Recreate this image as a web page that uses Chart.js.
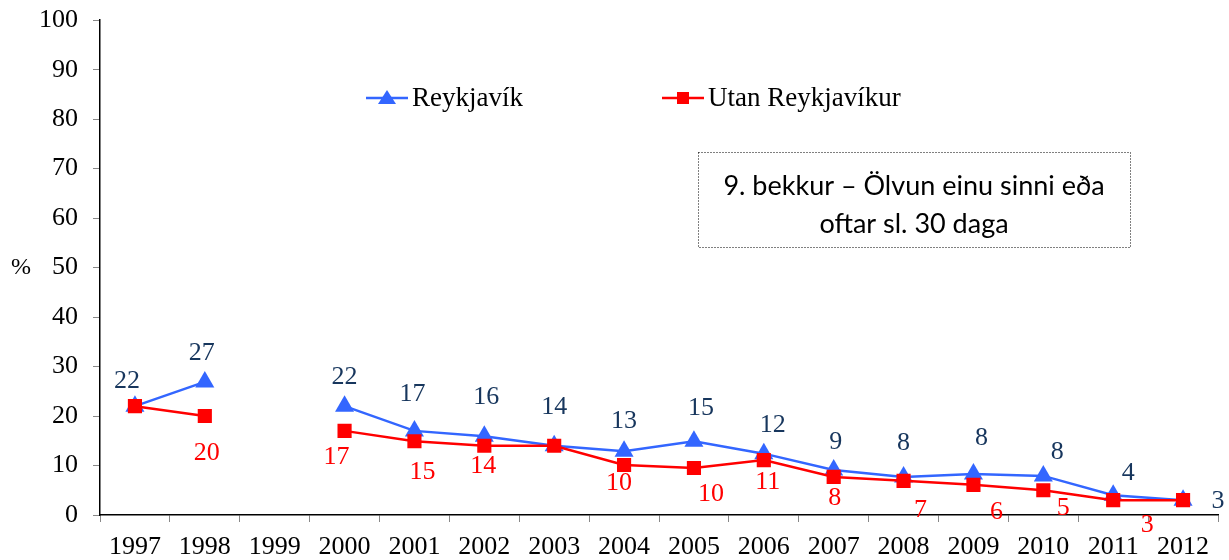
<!DOCTYPE html>
<html lang="is">
<head>
<meta charset="UTF-8">
<title>9. bekkur – Ölvun einu sinni eða oftar sl. 30 daga</title>
<script src="https://cdn.jsdelivr.net/npm/chart.js@4"></script>
<style>
    html, body { margin: 0; padding: 0; background: #fff; }
    #wrap { width: 1229px; height: 560px; position: relative; }
</style>
</head>
<body>
<div id="wrap"><canvas id="chart"></canvas></div>
<script>
// Ár (flokkar á x-ás)
const years = ['1997', '1998', '1999', '2000', '2001', '2002', '2003', '2004',
               '2005', '2006', '2007', '2008', '2009', '2010', '2011', '2012'];

// Gildi lesin af myndinni (%), null = engin mæling
const reykjavik = [22, 26.9, null, 22, 17, 15.9, 14, 12.9, 14.9, 12.4, 9.1, 7.7, 8.3, 7.9, 4, 3];
const utan      = [22, 20, null, 17, 14.9, 14, 14, 10.1, 9.5, 11.1, 7.7, 6.9, 6.1, 5, 3, 3];

// Merkingar við punkta (eins og á myndinni)
const reykjavikLabels = ['22', '27', null, '22', '17', '16', '14', '13', '15', '12', '9', '8', '8', '8', '4', '3'];
const utanLabels      = [null, '20', null, '17', '15', '14', null, '10', '10', '11', '8', '7', '6', '5', '3', null];

const yTicks = [0, 10, 20, 30, 40, 50, 60, 70, 80, 90, 100];

const seriesNames = ['Reykjavík', 'Utan Reykjavíkur'];
const titleLines = ['9. bekkur – Ölvun einu sinni eða', 'oftar sl. 30 daga'];

const BLUE = '#3366FF';
const RED = '#FF0000';
const NAVY = '#17365D';
const SERIF = '"Liberation Serif", "Times New Roman", serif';

// færslur merkinga frá punkti (dx, dy) í pixlum
const reykOffsets = [[-8,-25],[-3,-29],null,[0,-29],[-2,-37],[2,-39],[0,-39],[0,-30],[7,-33],[9,-28],[2,-28],[0,-34],[8,-36],[14,-24],[15,-22],[35,1]];
const utanOffsets = [null,[2,37],null,[-8,26],[8,31],[-1,20],null,[-5,18],[17,26],[4,22],[1,21],[17,29],[23,27],[20,18],[34,25],null];

const extras = {
    id: 'extras',
    afterDatasetsDraw(chart) {
        const ctx = chart.ctx;
        ctx.save();
        ctx.font = '26px ' + SERIF;
        ctx.textAlign = 'center';
        ctx.textBaseline = 'middle';
        [[0, reykjavikLabels, reykOffsets, NAVY], [1, utanLabels, utanOffsets, RED]].forEach(([di, labels, offs, col]) => {
            const meta = chart.getDatasetMeta(di);
            ctx.fillStyle = col;
            meta.data.forEach((pt, i) => {
                if (!labels[i] || !offs[i]) return;
                ctx.fillText(labels[i], pt.x + offs[i][0], pt.y + offs[i][1]);
            });
        });

        // % merki við y-ás
        ctx.fillStyle = '#000';
        ctx.font = '24px ' + SERIF;
        ctx.fillText('%', 21, chart.scales.y.getPixelForValue(50));

        // skýringar (legend)
        const legend = [[366, 'triangle', BLUE], [662, 'rect', RED]];
        ctx.font = '27px ' + SERIF;
        ctx.textAlign = 'left';
        legend.forEach(([x0, shape, col], k) => {
            const y = 98;
            ctx.strokeStyle = col;
            ctx.lineWidth = 2.5;
            ctx.beginPath();
            ctx.moveTo(x0, y);
            ctx.lineTo(x0 + 42, y);
            ctx.stroke();
            ctx.fillStyle = col;
            const cx = x0 + 21;
            if (shape === 'triangle') {
                ctx.beginPath();
                ctx.moveTo(cx, y - 8);
                ctx.lineTo(cx + 9, y + 6);
                ctx.lineTo(cx - 9, y + 6);
                ctx.closePath();
                ctx.fill();
            } else {
                ctx.fillRect(cx - 6, y - 6, 12, 12);
            }
            ctx.fillStyle = '#000';
            ctx.fillText(seriesNames[k], x0 + 46, y + 1);
        });

        // titilkassi
        ctx.strokeStyle = '#000';
        ctx.lineWidth = 1;
        ctx.setLineDash([1, 2]);
        ctx.strokeRect(698.5, 152.5, 432, 95);
        ctx.setLineDash([]);
        ctx.font = '27px Lato, "Open Sans", sans-serif';
        ctx.textAlign = 'center';
        ctx.fillText(titleLines[0], 914, 186);
        ctx.fillText(titleLines[1], 914, 224);
        ctx.restore();
    }
};

new Chart(document.getElementById('chart'), {
    type: 'line',
    data: {
        labels: years,
        datasets: [
            {
                label: seriesNames[0],
                data: reykjavik,
                borderColor: BLUE,
                backgroundColor: BLUE,
                borderWidth: 2.5,
                pointStyle: 'triangle',
                pointRadius: 11,
                pointBorderWidth: 0,
                spanGaps: false,
                tension: 0,
                order: 1
            },
            {
                label: seriesNames[1],
                data: utan,
                borderColor: RED,
                backgroundColor: RED,
                borderWidth: 2.5,
                pointStyle: 'rect',
                pointRadius: 10,
                pointBorderWidth: 0,
                spanGaps: false,
                tension: 0,
                order: 0
            }
        ]
    },
    options: {
        responsive: true,
        maintainAspectRatio: false,
        animation: false,
        layout: { padding: { left: 0, right: 9, top: 0, bottom: 0 } },
        plugins: {
            legend: { display: false },
            tooltip: { enabled: false }
        },
        scales: {
            x: {
                offset: true,
                grid: { offset: true, drawOnChartArea: false, drawTicks: true, tickLength: 7, color: '#888' },
                border: { display: true, color: '#000', width: 1.5 },
                ticks: { color: '#000', font: { family: SERIF, size: 26 }, padding: 10, maxRotation: 0, autoSkip: false },
                afterFit(scale) { scale.height = 45; }
            },
            y: {
                min: 0,
                max: 100,
                afterBuildTicks(scale) { scale.ticks = yTicks.map(v => ({ value: v })); },
                grid: { drawOnChartArea: false, drawTicks: true, tickLength: 7, color: '#888' },
                border: { display: true, color: '#000', width: 1.5 },
                ticks: { color: '#000', font: { family: SERIF, size: 26, lineHeight: 0.4 }, padding: 15 },
                afterFit(scale) { scale.width = 100; }
            }
        }
    },
    plugins: [extras]
});
</script>
</body>
</html>
